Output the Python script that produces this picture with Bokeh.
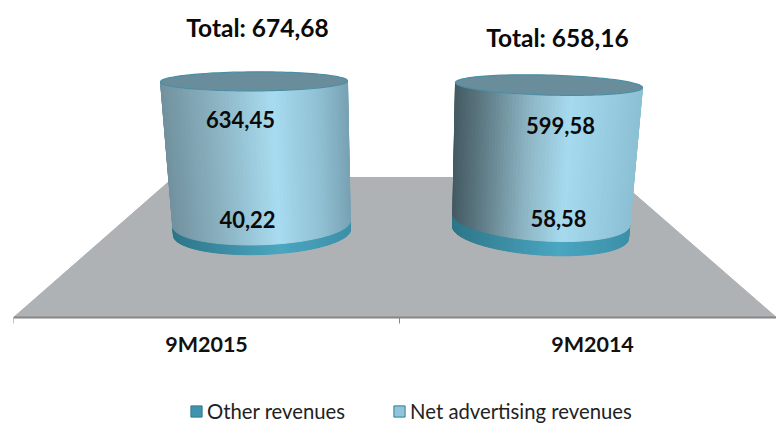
import numpy as np
from bokeh.plotting import figure
from bokeh.models import Range1d, FixedTicker, Legend, LegendItem, ColumnDataSource
from bokeh.core.properties import value
from bokeh.embed import file_html
from bokeh.resources import INLINE

categories = ["9M2015", "9M2014"]
other_revenues = [40.22, 58.58]
net_advertising = [634.45, 599.58]
totals = [674.68, 658.16]
other_labels = ["40,22", "58,58"]
net_labels = ["634,45", "599,58"]
total_labels = ["Total: 674,68", "Total: 658,16"]

# scale of the drawing: pixels per x unit and per revenue unit
PXX, PXY = 386.0, 0.224
FW = 763
dx = lambda px: px / PXX
dv = lambda px: px / PXY

p = figure(width=776, height=423, output_backend="svg", toolbar_location=None,
           x_range=Range1d(0, FW / PXX), y_range=Range1d(-191 / PXY, 232 / PXY),
           min_border_left=13, min_border_right=0, min_border_top=0, min_border_bottom=0,
           background_fill_color="white", border_fill_color="white", outline_line_color=None)
p.grid.visible = False
p.yaxis.visible = False

ax = p.xaxis[0]
ax.fixed_location = dv(-85)
ax.ticker = FixedTicker(ticks=[0.5, 1.5], minor_ticks=[0.0, 1.0, 2.0])
ax.major_label_overrides = {0.5: categories[0], 1.5: categories[1]}
ax.major_tick_out = 0
ax.major_tick_in = 0
ax.minor_tick_out = 6
ax.minor_tick_in = 0
ax.minor_tick_line_color = "#868686"
ax.axis_line_color = "#868686"
ax.axis_line_width = 2
ax.major_label_text_font = "Lato"
ax.major_label_text_font_style = "bold"
ax.major_label_text_font_size = "21.5px"
ax.major_label_text_color = "#111111"
ax.major_label_standoff = 7

# floor of the 3D chart
floor_x = [dx(0), dx(763), dx(602), dx(160)]
floor_y = [dv(-85), dv(-85), dv(55), dv(55)]
p.patch(floor_x, floor_y, fill_color="#AEB2B5", line_color="#AEB2B5", level="underlay")

def mix(stops, f):
    for (f0, c0), (f1, c1) in zip(stops, stops[1:]):
        if f <= f1:
            t = (f - f0) / (f1 - f0)
            a = [int(c0[i:i + 2], 16) for i in (1, 3, 5)]
            b = [int(c1[i:i + 2], 16) for i in (1, 3, 5)]
            return "#%02x%02x%02x" % tuple(round(x + (y - x) * t) for x, y in zip(a, b))
    return stops[-1][1]

# per cylinder geometry, in pixels around the category centre
geom = [
    dict(base=(-33, 144), top=(-46, 141), base_tilt=-3, top_tilt=-0.5, base_h=22, top_h=9.5,
         side=[(0, "#71919e"), (0.3, "#8cb4c3"), (0.6, "#a8dcf0"), (0.85, "#8fbfd2"), (1, "#78a3b4")]),
    dict(base=(-140, 36), top=(-137, 50), base_tilt=6, top_tilt=2.5, base_h=22.5, top_h=10,
         side=[(0, "#445a62"), (0.15, "#5d7983"), (0.4, "#8db5c4"), (0.62, "#a6daee"), (1, "#8cc0d5")]),
]
band = [(0, "#2c7587"), (0.6, "#4ba6c1"), (1, "#3b90a8")]

def edge(g, cx, v, total, u):
    t = v / total
    l = g["base"][0] + (g["top"][0] - g["base"][0]) * t
    r = g["base"][1] + (g["top"][1] - g["base"][1]) * t
    h = g["base_h"] + (g["top_h"] - g["base_h"]) * t
    tilt = g["base_tilt"] + (g["top_tilt"] - g["base_tilt"]) * t
    x = cx + dx((l + r) / 2 + u * (r - l) / 2)
    y = v - dv(tilt * u) - dv(h * np.sqrt(max(0.0, 1 - u * u)))
    return x, y

thetas = np.linspace(np.pi, 0, 81)
for i, g in enumerate(geom):
    cx = i + 0.5
    for lo, hi, stops in [(0.0, other_revenues[i], band),
                          (other_revenues[i], totals[i], g["side"])]:
        xs, ys, cols = [], [], []
        for a, b in zip(thetas, thetas[1:]):
            ua, ub = np.cos(a), np.cos(b)
            x0, y0 = edge(g, cx, lo, totals[i], ua)
            x1, y1 = edge(g, cx, lo, totals[i], ub)
            x2, y2 = edge(g, cx, hi, totals[i], ub)
            x3, y3 = edge(g, cx, hi, totals[i], ua)
            xs.append([x0, x1, x2, x3])
            ys.append([y0, y1, y2, y3])
            cols.append(mix(stops, (ua + ub + 2) / 4))
        p.patches(xs, ys, fill_color=cols, line_color=cols, line_width=1)
    # top face
    th = np.linspace(0, 2 * np.pi, 120)
    t_l, t_r = g["top"]
    ex = cx + dx((t_l + t_r) / 2 + np.cos(th) * (t_r - t_l) / 2)
    ey = totals[i] - dv(g["top_tilt"] * np.cos(th)) + dv(g["top_h"] * np.sin(th))
    p.patch(ex, ey, fill_color="#6a8d9c", line_color="#4a8ea5", line_width=1.2)

# data labels
lab_font = value("Lato")
p.text([0.5 + dx(34), 1.5 - dx(32)], [dv(113), dv(107)], text=net_labels, text_font=lab_font,
       text_font_style="bold", text_font_size="22px", text_color="#0a0a0a",
       text_align="center", text_baseline="middle")
p.text([0.5 + dx(41), 1.5 - dx(34)], [dv(13), dv(14)], text=other_labels, text_font=lab_font,
       text_font_style="bold", text_font_size="22px", text_color="#0a0a0a",
       text_align="center", text_baseline="middle")
p.text([0.5 + dx(51), 1.5 - dx(35)], [dv(205), dv(195)], text=total_labels, text_font=lab_font,
       text_font_style="bold", text_font_size="24.5px", text_color="#0a0a0a",
       text_align="center", text_baseline="middle")

# legend swatches come from quads that lie outside the visible range
off = dict(left=[-3], right=[-2], bottom=[-9000], top=[-8000])
r1 = p.quad(source=ColumnDataSource(data=off), left="left", right="right", bottom="bottom", top="top",
            fill_color="#3f93ac", line_color="#2e7a90")
r2 = p.quad(source=ColumnDataSource(data=off), left="left", right="right", bottom="bottom", top="top",
            fill_color="#8fc4da", line_color="#2f7f96")
legend = Legend(items=[LegendItem(label="Other revenues", renderers=[r1]),
                       LegendItem(label="Net advertising revenues", renderers=[r2])],
                orientation="horizontal", location=(176, 0),
                background_fill_alpha=0, border_line_color=None,
                label_text_font="Lato", label_text_font_size="20.3px", label_text_color="#222222",
                glyph_width=14, glyph_height=14, label_standoff=4, spacing=47,
                padding=0, margin=0)
p.add_layout(legend, "center")

open("out.html", "w").write(file_html(p, INLINE))
